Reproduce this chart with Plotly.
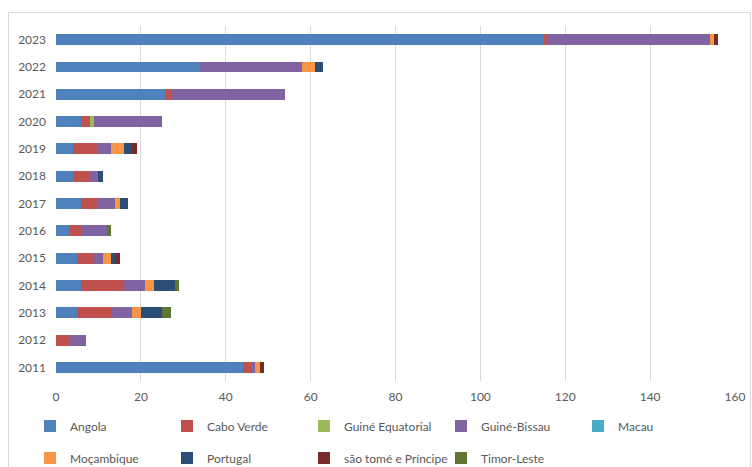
import plotly.graph_objects as go

years = ["2011", "2012", "2013", "2014", "2015", "2016", "2017", "2018", "2019", "2020", "2021", "2022", "2023"]
angola = [44, 0, 5, 6, 5, 3, 6, 4, 4, 6, 26, 34, 115]
cabo_verde = [2, 3, 8, 10, 4, 3, 4, 4, 6, 2, 1, 0, 1]
guine_equatorial = [0, 0, 0, 0, 0, 0, 0, 0, 0, 1, 0, 0, 0]
guine_bissau = [1, 4, 5, 5, 2, 6, 4, 2, 3, 16, 27, 24, 38]
macau = [0, 0, 0, 0, 0, 0, 0, 0, 0, 0, 0, 0, 0]
mocambique = [1, 0, 2, 2, 2, 0, 1, 0, 3, 0, 0, 3, 1]
portugal = [0, 0, 5, 5, 1, 0, 2, 1, 2, 0, 0, 2, 0]
sao_tome = [1, 0, 0, 0, 1, 0, 0, 0, 1, 0, 0, 0, 1]
timor_leste = [0, 0, 2, 1, 0, 1, 0, 0, 0, 0, 0, 0, 0]

series = [
    ("Angola", angola, "#4F81BD"),
    ("Cabo Verde", cabo_verde, "#C0504D"),
    ("Guiné Equatorial", guine_equatorial, "#9BBB59"),
    ("Guiné-Bissau", guine_bissau, "#8064A2"),
    ("Macau", macau, "#4BACC6"),
    ("Moçambique", mocambique, "#F79646"),
    ("Portugal", portugal, "#2C4D75"),
    ("são tomé e Príncipe", sao_tome, "#772C2A"),
    ("Timor-Leste", timor_leste, "#5F7530"),
]

# body margin is removed in post_script, so figure pixels == screen pixels
OFF = 0
W, H = 752 - OFF, 467 - OFF
PX0, PX1, PY0, PY1 = 56, 735, 26, 381  # plot area on screen
L = PX0 - OFF
R = W - (PX1 - OFF)
T = PY0 - OFF
B = H - (PY1 - OFF)
pw = PX1 - PX0
ph = PY1 - PY0

def px_x(p):
    return (p - PX0) / pw

def px_y(p):
    return (PY1 - p) / ph

fig = go.Figure()
for i, (name, vals, color) in enumerate(series):
    fig.add_trace(go.Bar(
        y=years, x=vals, name=name, orientation="h",
        marker=dict(color=color, line=dict(width=0)),
        legend="legend" if i < 5 else "legend2",
    ))

leg_common = dict(
    orientation="h", xanchor="left", yanchor="middle",
    entrywidth=92, entrywidthmode="pixels", itemwidth=30,
    font=dict(family="Lato, 'Open Sans', sans-serif", size=12, color="#595959"),
    traceorder="normal", bgcolor="rgba(0,0,0,0)",
)

fig.update_layout(
    width=W, height=H,
    margin=dict(l=L, r=R, t=T, b=B, autoexpand=False),
    barmode="stack",
    bargap=0.6,
    plot_bgcolor="white",
    paper_bgcolor="white",
    font=dict(family="Lato, 'Open Sans', sans-serif", size=12, color="#595959"),
    xaxis=dict(
        range=[0, 160], dtick=20, showgrid=True, gridcolor="#D9D9D9", gridwidth=1,
        zeroline=False, showline=False, ticks="", tickfont=dict(size=12, color="#595959"),
        ticklabelstandoff=7, automargin=False,
    ),
    yaxis=dict(
        showgrid=False, zeroline=False, showline=False, ticks="",
        tickfont=dict(size=12, color="#595959"), ticklabelstandoff=9,
        automargin=False,
    ),
    legend=dict(x=px_x(30), y=px_y(426), **leg_common),
    legend2=dict(x=px_x(30), y=px_y(458), **leg_common),
    shapes=[dict(
        type="rect", xref="paper", yref="paper",
        x0=px_x(8.5), x1=px_x(750.5), y0=px_y(475), y1=px_y(12.5),
        line=dict(color="#D9D9D9", width=1), fillcolor="rgba(0,0,0,0)", layer="below",
    )],
)

fig.write_html(
    "out.html",
    config={"displayModeBar": False},
    post_script="document.body.style.margin='0';document.body.style.padding='0';document.documentElement.style.overflow='hidden';document.body.style.overflow='hidden';",
)
